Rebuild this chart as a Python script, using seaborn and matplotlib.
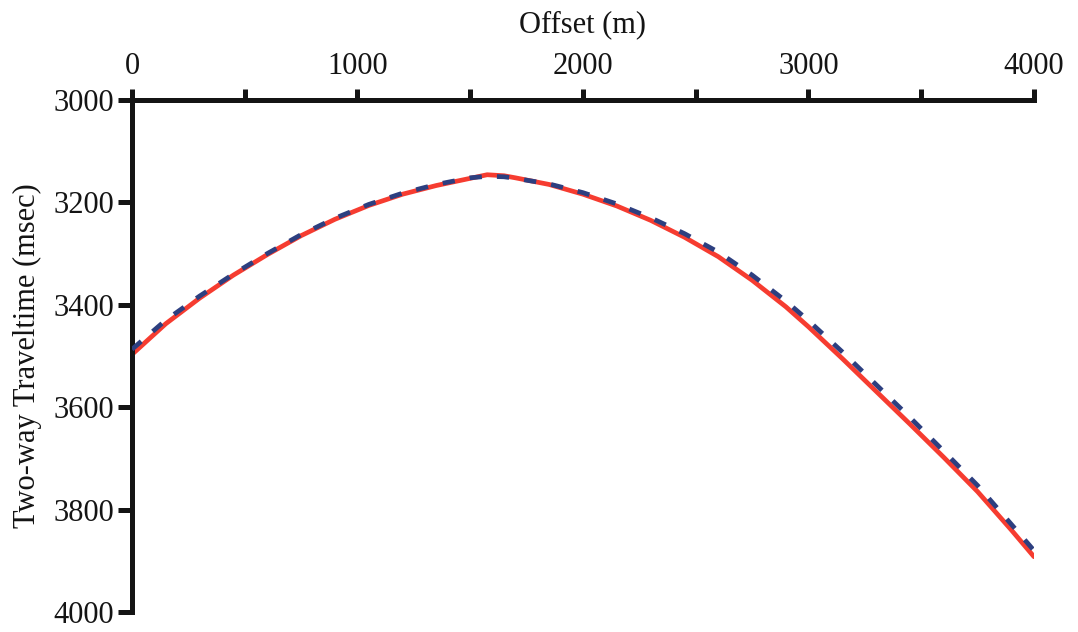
import numpy as np
import pandas as pd
import matplotlib
matplotlib.use("Agg")
import matplotlib.pyplot as plt
import seaborn as sns

# offsets (m) and two-way traveltimes (ms)
offset = [0, 150, 300, 450, 600, 750, 900, 1050, 1200, 1350, 1500, 1575, 1650,
          1700, 1850, 2000, 2150, 2300, 2450, 2600, 2750, 2900, 3000, 3150,
          3300, 3450, 3600, 3750, 3900, 4000]
time_red = [3497, 3437, 3387, 3342, 3302, 3265, 3233, 3206, 3184, 3167, 3153,
            3146, 3148, 3152, 3165, 3184, 3207, 3235, 3268, 3306, 3352, 3404,
            3443, 3505, 3569, 3633, 3698, 3765, 3840, 3892]
time_blue = [3487, 3430, 3383, 3340, 3300, 3263, 3231, 3204, 3182, 3165, 3152,
             3149, 3150, 3153, 3164, 3181, 3203, 3230, 3261, 3297, 3342, 3393,
             3431, 3492, 3556, 3620, 3686, 3753, 3829, 3880]

x_ticks = [0, 500, 1000, 1500, 2000, 2500, 3000, 3500, 4000]
x_tick_labels = ["0", "", "1000", "", "2000", "", "3000", "", "4000"]
y_ticks = [3000, 3200, 3400, 3600, 3800, 4000]

df = pd.DataFrame({"offset": offset, "red": time_red, "blue": time_blue})

sns.set_style("ticks")
plt.rcParams["font.family"] = ["Liberation Serif", "DejaVu Serif"]

fig = plt.figure(figsize=(10.78, 6.32), dpi=100)
ax = fig.add_axes([0.1224, 0.0316, 0.8368, 0.8102])

sns.lineplot(data=df, x="offset", y="red", ax=ax, color="#f63c30",
             linewidth=3.4, zorder=2)
sns.lineplot(data=df, x="offset", y="blue", ax=ax, color="#2d3f80",
             linewidth=3.4, zorder=3)
ax.lines[-1].set_dashes((2.6, 3.2))
ax.lines[-1].set_dash_capstyle("butt")

ax.set_xlim(0, 4000)
ax.set_ylim(4000, 3000)

ax.xaxis.set_ticks_position("top")
ax.xaxis.set_label_position("top")
ax.set_xticks(x_ticks)
ax.set_xticklabels(x_tick_labels)
ax.set_yticks(y_ticks)

for side in ["bottom", "right"]:
    ax.spines[side].set_visible(False)
for side in ["top", "left"]:
    ax.spines[side].set_linewidth(3.6)
    ax.spines[side].set_color("#141414")

ax.tick_params(axis="x", direction="out", length=8, width=3.6, pad=6,
               labelsize=22, colors="#141414")
ax.tick_params(axis="y", direction="out", length=10, width=3.6, pad=3,
               labelsize=22, colors="#141414")

ax.set_xlabel("Offset (m)", fontsize=22, labelpad=14, color="#141414")
ax.set_ylabel("Two-way Traveltime (msec)", fontsize=22, labelpad=8,
              color="#141414")

fig.savefig("out.png", dpi=100)
